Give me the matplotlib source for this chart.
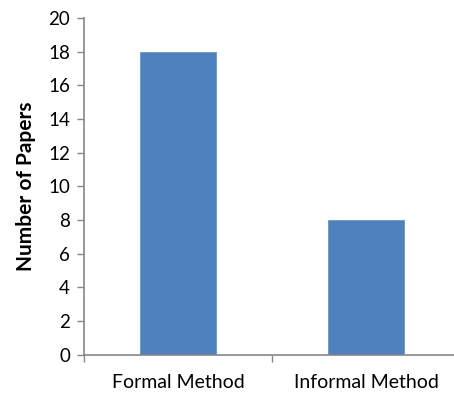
import numpy as np
import matplotlib.pyplot as plt

categories = ["Formal Method", "Informal Method"]
papers = [18, 8]
yticks = list(range(0, 21, 2))

plt.rcParams['font.family'] = ['Lato', 'DejaVu Sans']

fig = plt.figure(figsize=(4.54, 3.96), dpi=100)
ax = fig.add_axes([84 / 454, 41.3 / 396, 376 / 454, 336.7 / 396])

pos = np.arange(len(categories))
ax.bar(pos, papers, width=0.4, color="#4F81BD", edgecolor="#6D95C8", linewidth=0.6)

axis_gray = "#868686"
ax.set_xlim(-0.5, 1.5)
ax.set_ylim(0, 20)
ax.set_yticks(yticks)
ax.set_yticklabels([str(v) for v in yticks], fontsize=13.5)

# category labels without ticks; boundary ticks drawn as minor
ax.set_xticks(pos)
ax.set_xticklabels(categories, fontsize=14)
ax.tick_params(axis="x", which="major", length=0, pad=14)
ax.set_xticks([-0.5, 0.5, 1.5], minor=True)
ax.tick_params(axis="x", which="minor", length=5, color=axis_gray, width=1)
ax.tick_params(axis="y", length=5, color=axis_gray, width=1, pad=5)

for s in ["top", "right"]:
    ax.spines[s].set_visible(False)
for s in ["left", "bottom"]:
    ax.spines[s].set_color(axis_gray)
    ax.spines[s].set_linewidth(1.2)

ax.set_ylabel("Number of Papers", fontsize=15, fontweight="bold", labelpad=9)

fig.savefig("out.png", dpi=100)
